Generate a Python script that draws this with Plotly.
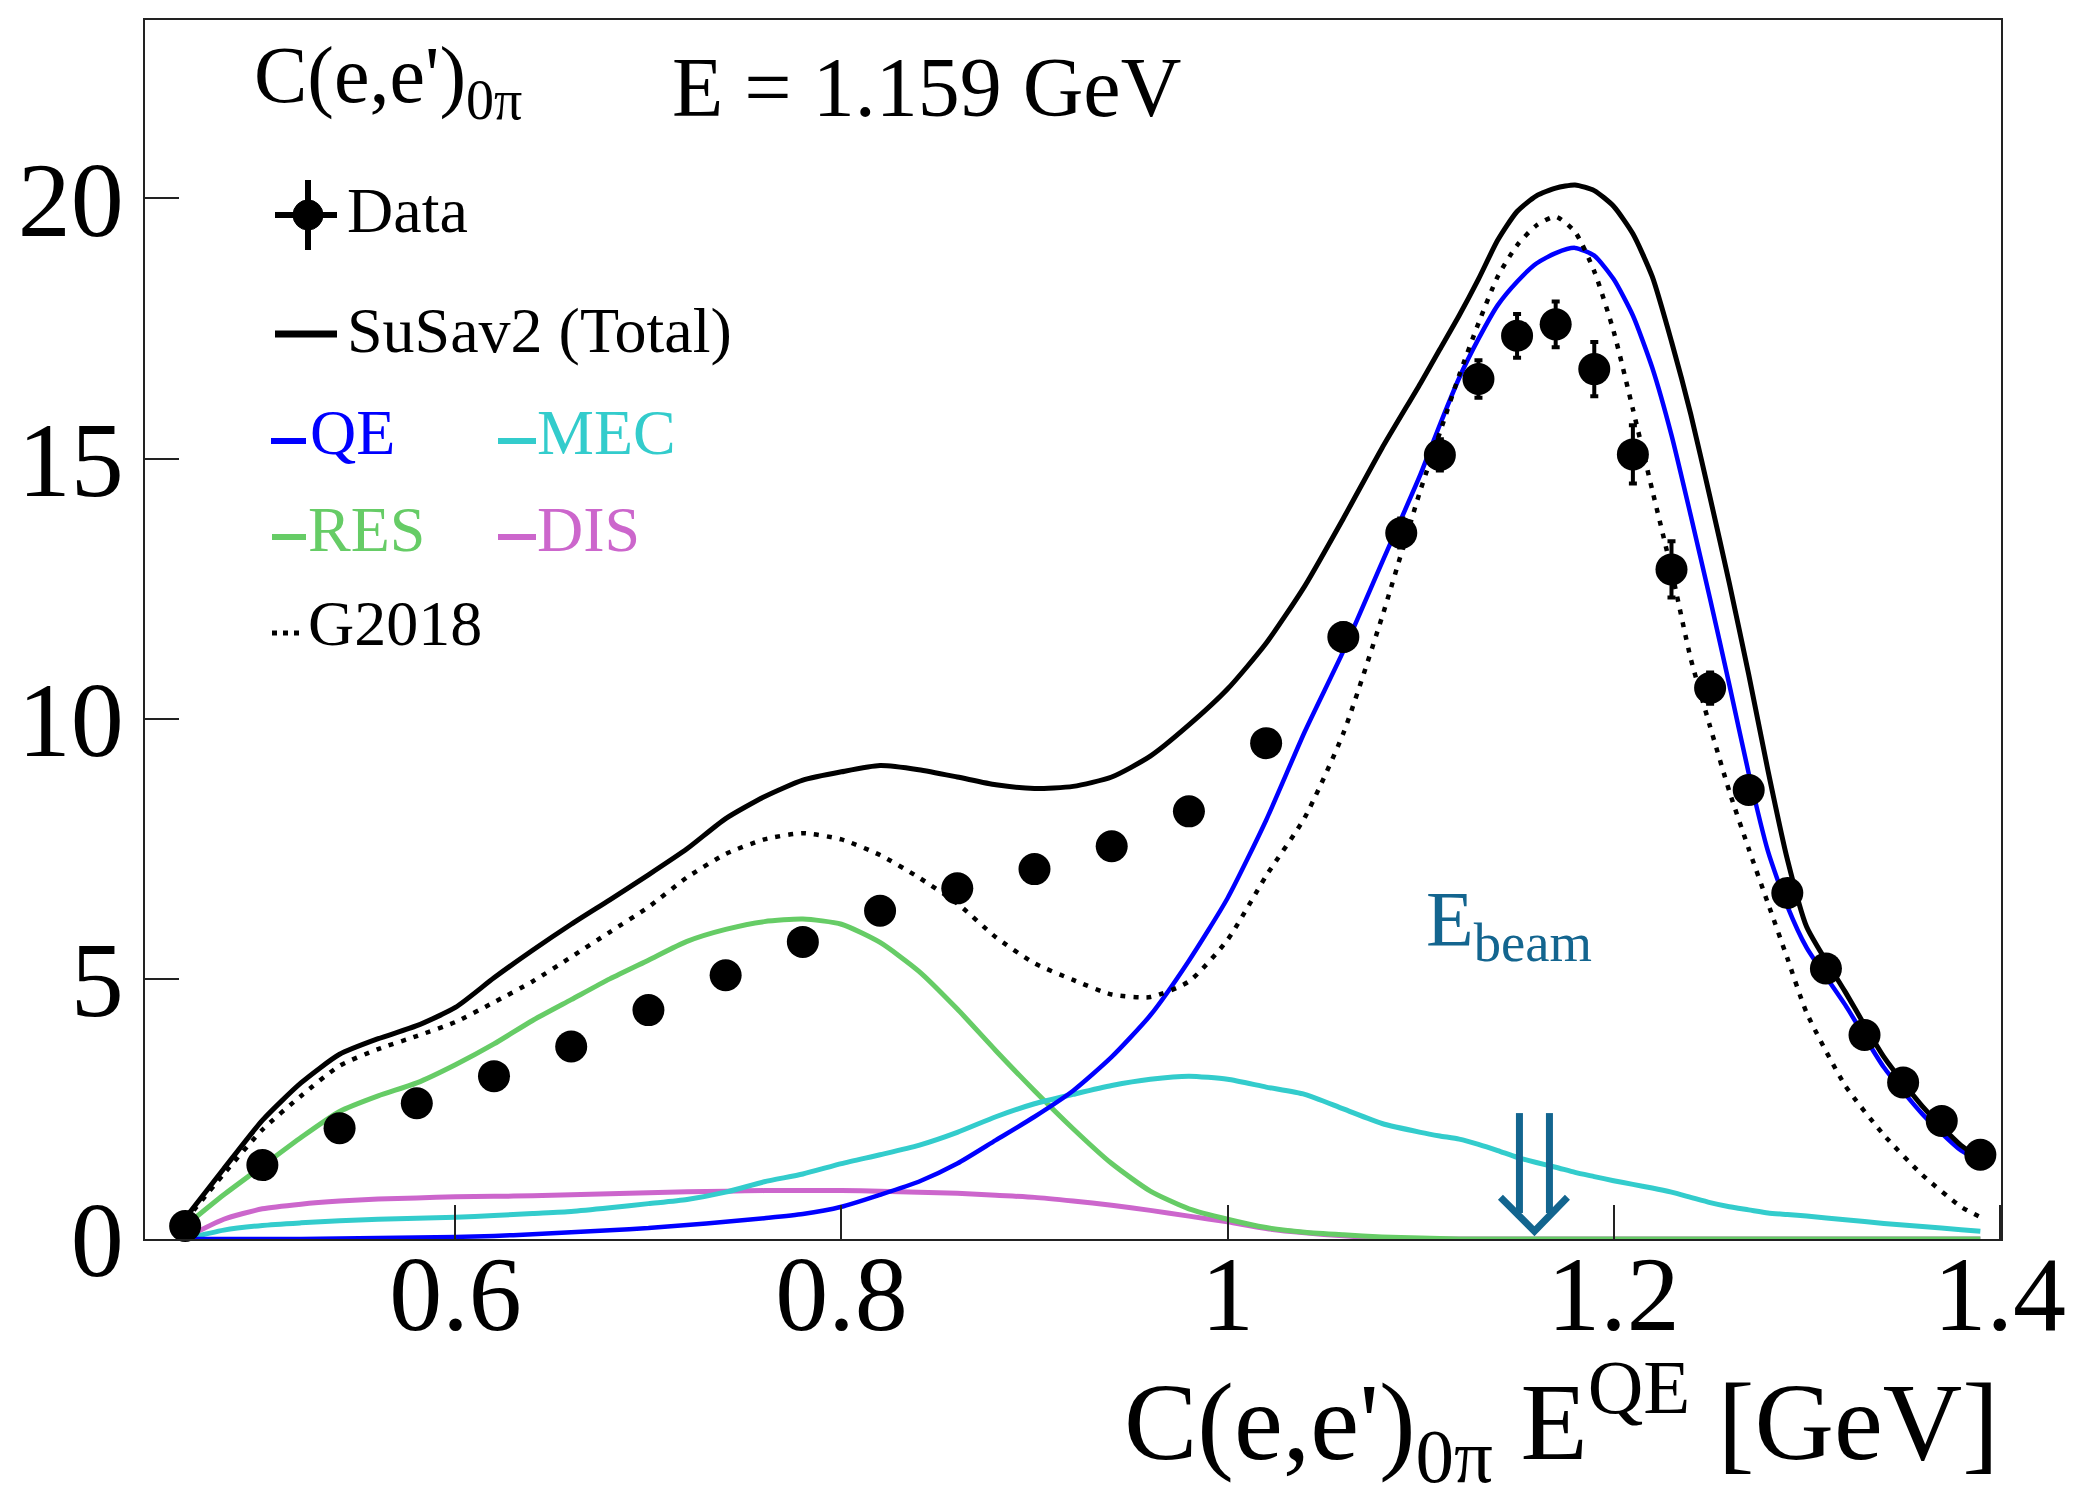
import plotly.graph_objects as go

# ---------------- data ----------------
data_x = [0.46, 0.50, 0.54, 0.58, 0.62, 0.66, 0.70, 0.74, 0.78, 0.82, 0.86, 0.90, 0.94, 0.98, 1.02, 1.06,
          1.09, 1.11, 1.13, 1.15, 1.17, 1.19, 1.21, 1.23, 1.25, 1.27, 1.29, 1.31, 1.33, 1.35, 1.37, 1.39]
data_y = [0.25, 1.42, 2.13, 2.61, 3.13, 3.70, 4.40, 5.07, 5.71, 6.31, 6.74, 7.11, 7.55, 8.22, 9.53, 11.57,
          13.57, 15.07, 16.53, 17.36, 17.58, 16.72, 15.08, 12.87, 10.59, 8.63, 6.65, 5.20, 3.92, 3.01, 2.27, 1.62]
data_err = [0.05, 0.10, 0.12, 0.13, 0.14, 0.15, 0.16, 0.17, 0.18, 0.19, 0.20, 0.20, 0.21, 0.22, 0.24, 0.26,
            0.28, 0.30, 0.36, 0.42, 0.44, 0.52, 0.56, 0.54, 0.30, 0.25, 0.22, 0.20, 0.18, 0.16, 0.14, 0.13]

curve_x = [0.46, 0.48, 0.50, 0.52, 0.54, 0.56, 0.58, 0.60, 0.62, 0.64, 0.66, 0.68, 0.70, 0.72, 0.74, 0.76,
           0.78, 0.80, 0.82, 0.84, 0.86, 0.88, 0.90, 0.92, 0.94, 0.96, 0.98, 1.00, 1.02, 1.04, 1.06, 1.08, 1.10,
           1.11, 1.12, 1.13, 1.14, 1.15, 1.16, 1.17, 1.18, 1.19, 1.20, 1.21, 1.22, 1.23, 1.24, 1.25, 1.26,
           1.27, 1.28, 1.29, 1.30, 1.32, 1.34, 1.36, 1.38, 1.39]

susav2_total = [0.40, 1.35, 2.28, 3.00, 3.55, 3.85, 4.10, 4.45, 5.02, 5.55, 6.05, 6.52, 7.00, 7.50, 8.08, 8.50,
                8.82, 8.98, 9.10, 9.02, 8.88, 8.73, 8.66, 8.70, 8.88, 9.28, 9.88, 10.57, 11.45, 12.55, 13.85, 15.20, 16.45,
                17.10, 17.75, 18.45, 19.20, 19.75, 20.05, 20.20, 20.26, 20.15, 19.85, 19.32, 18.50, 17.25, 15.85, 14.25, 12.60,
                10.85, 9.00, 7.30, 6.00, 4.75, 3.50, 2.55, 1.80, 1.56]
g2018 = [0.35, 1.25, 2.10, 2.75, 3.33, 3.65, 3.90, 4.17, 4.55, 4.95, 5.42, 5.90, 6.38, 6.95, 7.40, 7.68,
         7.80, 7.68, 7.38, 6.95, 6.45, 5.80, 5.30, 4.98, 4.70, 4.65, 4.95, 5.75, 6.98, 8.10, 9.72, 11.95, 14.40,
         15.50, 16.60, 17.60, 18.50, 19.10, 19.48, 19.65, 19.36, 18.60, 17.45, 15.95, 14.40, 12.85, 11.15, 9.85, 8.60,
         7.50, 6.45, 5.40, 4.35, 2.95, 2.00, 1.23, 0.62, 0.42]
qe = [0.00, 0.00, 0.00, 0.00, 0.01, 0.02, 0.03, 0.04, 0.06, 0.09, 0.13, 0.17, 0.21, 0.27, 0.33, 0.40,
      0.48, 0.62, 0.85, 1.10, 1.45, 1.90, 2.35, 2.85, 3.50, 4.30, 5.35, 6.55, 8.05, 9.75, 11.30, 13.00, 14.70,
      15.65, 16.55, 17.30, 17.95, 18.40, 18.75, 18.95, 19.05, 18.90, 18.45, 17.75, 16.75, 15.45, 13.90, 12.30, 10.65,
      8.95, 7.45, 6.40, 5.60, 4.50, 3.30, 2.40, 1.70, 1.50]
mec = [0.00, 0.17, 0.26, 0.31, 0.35, 0.38, 0.40, 0.42, 0.45, 0.49, 0.53, 0.60, 0.68, 0.76, 0.90, 1.10,
       1.25, 1.45, 1.62, 1.80, 2.05, 2.35, 2.60, 2.78, 2.95, 3.07, 3.13, 3.07, 2.92, 2.78, 2.50, 2.22, 2.05,
       1.98, 1.92, 1.82, 1.70, 1.57, 1.47, 1.38, 1.28, 1.20, 1.12, 1.05, 0.98, 0.90, 0.80, 0.70, 0.62,
       0.56, 0.50, 0.47, 0.44, 0.37, 0.30, 0.24, 0.18, 0.15]
res = [0.25, 0.85, 1.40, 1.95, 2.45, 2.75, 3.00, 3.35, 3.75, 4.20, 4.60, 5.00, 5.36, 5.72, 5.95, 6.10,
       6.15, 6.05, 5.70, 5.15, 4.42, 3.62, 2.85, 2.12, 1.45, 0.92, 0.58, 0.38, 0.22, 0.13, 0.08, 0.04, 0.02,
       0.01, 0.00, 0.00, 0.00, 0.00, 0.00, 0.00, 0.00, 0.00, 0.00, 0.00, 0.00, 0.00, 0.00, 0.00, 0.00,
       0.00, 0.00, 0.00, 0.00, 0.00, 0.00, 0.00, 0.00, 0.00]
dis = [0.02, 0.38, 0.58, 0.67, 0.73, 0.77, 0.79, 0.81, 0.82, 0.83, 0.85, 0.87, 0.89, 0.91, 0.92, 0.93,
       0.93, 0.93, 0.92, 0.90, 0.88, 0.84, 0.80, 0.73, 0.65, 0.55, 0.44, 0.33, 0.20, 0.12, 0.06, 0.02, 0.00,
       0.00, 0.00, 0.00, 0.00, 0.00, 0.00, 0.00, 0.00, 0.00, 0.00, 0.00, 0.00, 0.00, 0.00, 0.00, 0.00,
       0.00, 0.00, 0.00, 0.00, 0.00, 0.00, 0.00, 0.00, 0.00]

e_beam = 1.159
x_ticks = [0.6, 0.8, 1.0, 1.2, 1.4]
x_tick_labels = ["0.6", "0.8", "1", "1.2", "1.4"]
y_ticks = [0, 5, 10, 15, 20]
y_tick_labels = ["0", "5", "10", "15", "20"]

# ---------------- styling ----------------
W, H = 2075, 1510
L, R, T, B = 137, 1993, 12, 1231
FONT = "Liberation Serif"
C_QE, C_MEC, C_RES, C_DIS = "#0000ff", "#33cccc", "#66cc66", "#cc66cc"
C_BEAM = "#13658f"


def px(xp):
    return (xp - L) / (R - L)


def py(yp):
    return (B - yp) / (B - T)


fig = go.Figure()
spl = dict(shape="spline", smoothing=0.6)
fig.add_trace(go.Scatter(x=curve_x, y=dis, mode="lines", line=dict(color=C_DIS, width=5, **spl), showlegend=False))
fig.add_trace(go.Scatter(x=curve_x, y=res, mode="lines", line=dict(color=C_RES, width=5, **spl), showlegend=False))
fig.add_trace(go.Scatter(x=curve_x, y=mec, mode="lines", line=dict(color=C_MEC, width=5, **spl), showlegend=False))
fig.add_trace(go.Scatter(x=curve_x, y=qe, mode="lines", line=dict(color=C_QE, width=4.5, **spl), showlegend=False))
fig.add_trace(go.Scatter(x=curve_x, y=g2018, mode="lines",
                         line=dict(color="black", width=4.5, dash="5px,8px", **spl), showlegend=False))
fig.add_trace(go.Scatter(x=curve_x, y=susav2_total, mode="lines", line=dict(color="black", width=5, **spl),
                         showlegend=False))
fig.add_trace(go.Scatter(x=data_x, y=data_y, mode="markers", cliponaxis=False,
                         marker=dict(color="black", size=32),
                         error_y=dict(type="data", array=data_err, color="black", thickness=4, width=4),
                         showlegend=False))

shapes = []
# E_beam arrow (double shaft with V head), anchored at the beam energy
arrow_top, arrow_tip = 2.42, 0.15
for dx in (-15, 15):
    shapes.append(dict(type="line", xref="x", yref="y", xsizemode="pixel", xanchor=e_beam,
                       x0=dx, x1=dx, y0=arrow_top, y1=arrow_tip + 0.35,
                       line=dict(color=C_BEAM, width=7)))
shapes.append(dict(type="path", xref="x", yref="y", xsizemode="pixel", ysizemode="pixel",
                   xanchor=e_beam, yanchor=arrow_tip,
                   path="M -34,34 L 0,0 L 33,34", line=dict(color=C_BEAM, width=7)))


# legend glyphs
def hline(x0, x1, y, color, width, dash=None):
    d = dict(color=color, width=width)
    if dash:
        d["dash"] = dash
    shapes.append(dict(type="line", xref="paper", yref="paper", x0=px(x0), x1=px(x1), y0=py(y), y1=py(y), line=d))


hline(267, 329, 207, "black", 6)
shapes.append(dict(type="line", xref="paper", yref="paper", x0=px(300), x1=px(300), y0=py(172), y1=py(242),
                   line=dict(color="black", width=6)))
shapes.append(dict(type="circle", xref="paper", yref="paper", xsizemode="pixel", ysizemode="pixel",
                   xanchor=px(300), yanchor=py(207), x0=-15, x1=15, y0=-15, y1=15,
                   fillcolor="black", line=dict(color="black", width=1)))
hline(267, 329, 326, "black", 7)
hline(263, 298, 433, C_QE, 6)
hline(490, 528, 433, C_MEC, 6)
hline(264, 298, 529, C_RES, 6)
hline(490, 528, 529, C_DIS, 6)
hline(264, 296, 625, "black", 5, dash="5px,6px")

annotations = []


def ann(text, x, y, size, color="black", xanchor="left", yanchor="middle"):
    annotations.append(dict(text=text, xref="paper", yref="paper", x=px(x), y=py(y), xanchor=xanchor,
                            yanchor=yanchor, showarrow=False,
                            font=dict(family=FONT, size=size, color=color)))


ann("Data", 337, 203, 64)
ann("SuSav2 (Total)", 337, 323, 64)
ann("QE", 300, 424, 64, C_QE)
ann("MEC", 527, 424, 64, C_MEC)
ann("RES", 298, 521, 64, C_RES)
ann("DIS", 527, 521, 64, C_DIS)
ann("G2018", 298, 616, 64)
ann("C(e,e')<sub>0π</sub>", 244, 73, 80)
ann("E = 1.159 GeV", 662, 80, 84)
ann("E<sub>beam</sub>", 1416, 916, 78, C_BEAM)
ann("C(e,e')<sub>0π</sub> E<sup>QE</sup> [GeV]", 1993, 1413, 110, xanchor="right")

axis_common = dict(showgrid=False, zeroline=False, showline=True, mirror=True, linecolor="#222222",
                   linewidth=2, ticks="inside", ticklen=34, tickwidth=2, tickcolor="#222222",
                   tickfont=dict(family=FONT, size=106, color="black"))
fig.update_xaxes(range=[0.4392, 1.4007], tickvals=x_ticks, ticktext=x_tick_labels,
                 ticklabelstandoff=-38, **axis_common)
fig.update_yaxes(range=[0, 23.43], tickvals=y_ticks, ticktext=y_tick_labels,
                 ticklabelstandoff=-2, **axis_common)

fig.update_layout(width=W, height=H, margin=dict(l=L, r=W - R, t=T, b=H - B, autoexpand=False),
                  plot_bgcolor="white", paper_bgcolor="white", shapes=shapes, annotations=annotations,
                  showlegend=False)

fig.write_html("out.html")
